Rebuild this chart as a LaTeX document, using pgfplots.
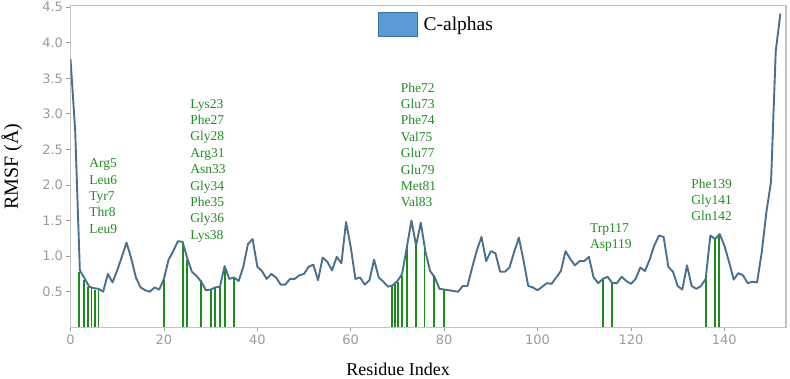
\documentclass[border=0pt]{standalone}
\usepackage{pgfplots}
\pgfplotsset{compat=1.18}
\usepackage{fontspec}
\setmainfont{Liberation Serif}
\newfontfamily\ticksans{DejaVu Sans}
\definecolor{curveblue}{RGB}{74,112,142}
\definecolor{bargreen}{RGB}{25,140,25}
\definecolor{labgreen}{RGB}{34,139,34}
\definecolor{tickgray}{RGB}{155,155,155}
\definecolor{framegray}{RGB}{195,195,195}
\definecolor{legfill}{RGB}{91,155,213}
\definecolor{legdraw}{RGB}{65,113,156}
\begin{document}
\begin{tikzpicture}
\useasboundingbox (-70.5pt,-50.75pt) rectangle (719.5pt,327.25pt);
\begin{axis}[
  scale only axis,
  width=715.5pt, height=321.5pt,
  xmin=0, xmax=153.2, ymin=0, ymax=4.52,
  xtick={0,20,40,60,80,100,120,140},
  ytick={0.5,1.0,1.5,2.0,2.5,3.0,3.5,4.0,4.5},
  xtick pos=bottom, ytick pos=left,
  tick align=outside,
  major tick length=4pt,
  tick style={draw=tickgray, line width=0.8pt},
  axis line style={draw=framegray, line width=1.2pt},
  /pgf/number format/assume math mode=true,
  yticklabel style={/pgf/number format/.cd, fixed, fixed zerofill, precision=1},
  tick label style={font=\ticksans\fontsize{13}{15}\selectfont, text=tickgray},
  xlabel={Residue Index},
  ylabel={RMSF (Å)},
  xlabel style={font=\fontsize{18}{20}\selectfont, at={(axis description cs:0.458,-0.13)}, anchor=center},
  ylabel style={font=\fontsize{20}{22}\selectfont, at={(axis description cs:-0.082,0.5)}, anchor=center},
  legend style={at={(axis cs:65.8,4.43)}, anchor=north west, draw=none, fill=none,
    inner sep=0pt, font=\fontsize{19.5}{21}\selectfont, cells={anchor=west}},
  legend image code/.code={\draw[fill=legfill, draw=legdraw, line width=0.8pt] (0pt,-12pt) rectangle (39pt,12pt); \path (43pt,0pt);},
]
\addlegendimage{}
\addlegendentry{C-alphas}
\addplot[ycomb, draw=bargreen, line width=1.9pt, forget plot] coordinates {
(1.9,0.78) (2.9,0.66) (3.8,0.57) (4.5,0.55) (5.3,0.53) (6.0,0.52)
(20,0.66) (24,1.20) (25,0.95) (28,0.66) (30,0.52) (31,0.55) (32,0.56) (33,0.85) (35,0.69)
(68.8,0.58) (69.5,0.61) (70.2,0.64) (70.9,0.72) (72,1.13) (73.9,1.15) (75.8,1.08) (77.8,0.74) (80,0.53)
(114,0.66) (116,0.63)
(136.1,0.70) (138,1.25) (138.9,1.30)
};
\addplot[draw=curveblue, line width=1.9pt, line join=round, forget plot] coordinates {
(0,3.77) (1,2.77) (2,0.80) (3,0.69) (4,0.57) (5,0.55) (6,0.54) (7,0.50) (8,0.75) (9,0.63)
(10,0.80) (11,0.99) (12,1.19) (13,0.97) (14,0.70) (15,0.56) (16,0.52) (17,0.50) (18,0.56) (19,0.53)
(20,0.68) (21,0.95) (22,1.07) (23,1.21) (24,1.20) (25,0.97) (26,0.78) (27,0.72) (28,0.64) (29,0.52)
(30,0.53) (31,0.56) (32,0.57) (33,0.86) (34,0.68) (35,0.70) (36,0.65) (37,0.85) (38,1.17) (39,1.24)
(40,0.85) (41,0.79) (42,0.68) (43,0.75) (44,0.70) (45,0.60) (46,0.60) (47,0.68) (48,0.68) (49,0.73)
(50,0.75) (51,0.85) (52,0.88) (53,0.66) (54,0.98) (55,0.92) (56,0.80) (57,0.99) (58,0.90) (59,1.48)
(60,1.13) (61,0.68) (62,0.70) (63,0.60) (64,0.66) (65,0.95) (66,0.70) (67,0.64) (68,0.57) (69,0.59)
(70,0.65) (71,0.75) (72,1.12) (73,1.50) (74,1.15) (75,1.47) (76,1.06) (77,0.79) (78,0.70) (79,0.54)
(80,0.53) (81,0.52) (82,0.51) (83,0.50) (84,0.58) (85,0.58) (86,0.84) (87,1.08) (88,1.27) (89,0.93)
(90,1.07) (91,1.04) (92,0.78) (93,0.78) (94,0.84) (95,1.06) (96,1.26) (97,0.94) (98,0.58) (99,0.56)
(100,0.52) (101,0.57) (102,0.62) (103,0.61) (104,0.70) (105,0.79) (106,1.07) (107,0.96) (108,0.87) (109,0.93)
(110,0.93) (111,0.99) (112,0.70) (113,0.62) (114,0.68) (115,0.71) (116,0.62) (117,0.62) (118,0.71) (119,0.65)
(120,0.61) (121,0.68) (122,0.84) (123,0.79) (124,0.95) (125,1.15) (126,1.29) (127,1.27) (128,0.85) (129,0.78)
(130,0.58) (131,0.53) (132,0.87) (133,0.58) (134,0.54) (135,0.58) (136,0.68) (137,1.29) (138,1.24) (139,1.31)
(140,1.15) (141,0.92) (142,0.67) (143,0.76) (144,0.73) (145,0.62) (146,0.64) (147,0.63) (148,1.05) (149,1.62)
(150,2.05) (151,3.88) (152,4.41)
};
\begin{scope}[every node/.style={font=\fontsize{13.5}{16.4}\selectfont, text=labgreen, align=left, inner sep=0pt, anchor=north west}]
\node at (axis cs:4.0,2.37) {Arg5\\Leu6\\Tyr7\\Thr8\\Leu9};
\node at (axis cs:25.6,3.21) {Lys23\\Phe27\\Gly28\\Arg31\\Asn33\\Gly34\\Phe35\\Gly36\\Lys38};
\node at (axis cs:70.7,3.44) {Phe72\\Glu73\\Phe74\\Val75\\Glu77\\Glu79\\Met81\\Val83};
\node at (axis cs:111.2,1.46) {Trp117\\Asp119};
\node at (axis cs:132.9,2.09) {Phe139\\Gly141\\Gln142};
\end{scope}
\end{axis}
\end{tikzpicture}
\end{document}
